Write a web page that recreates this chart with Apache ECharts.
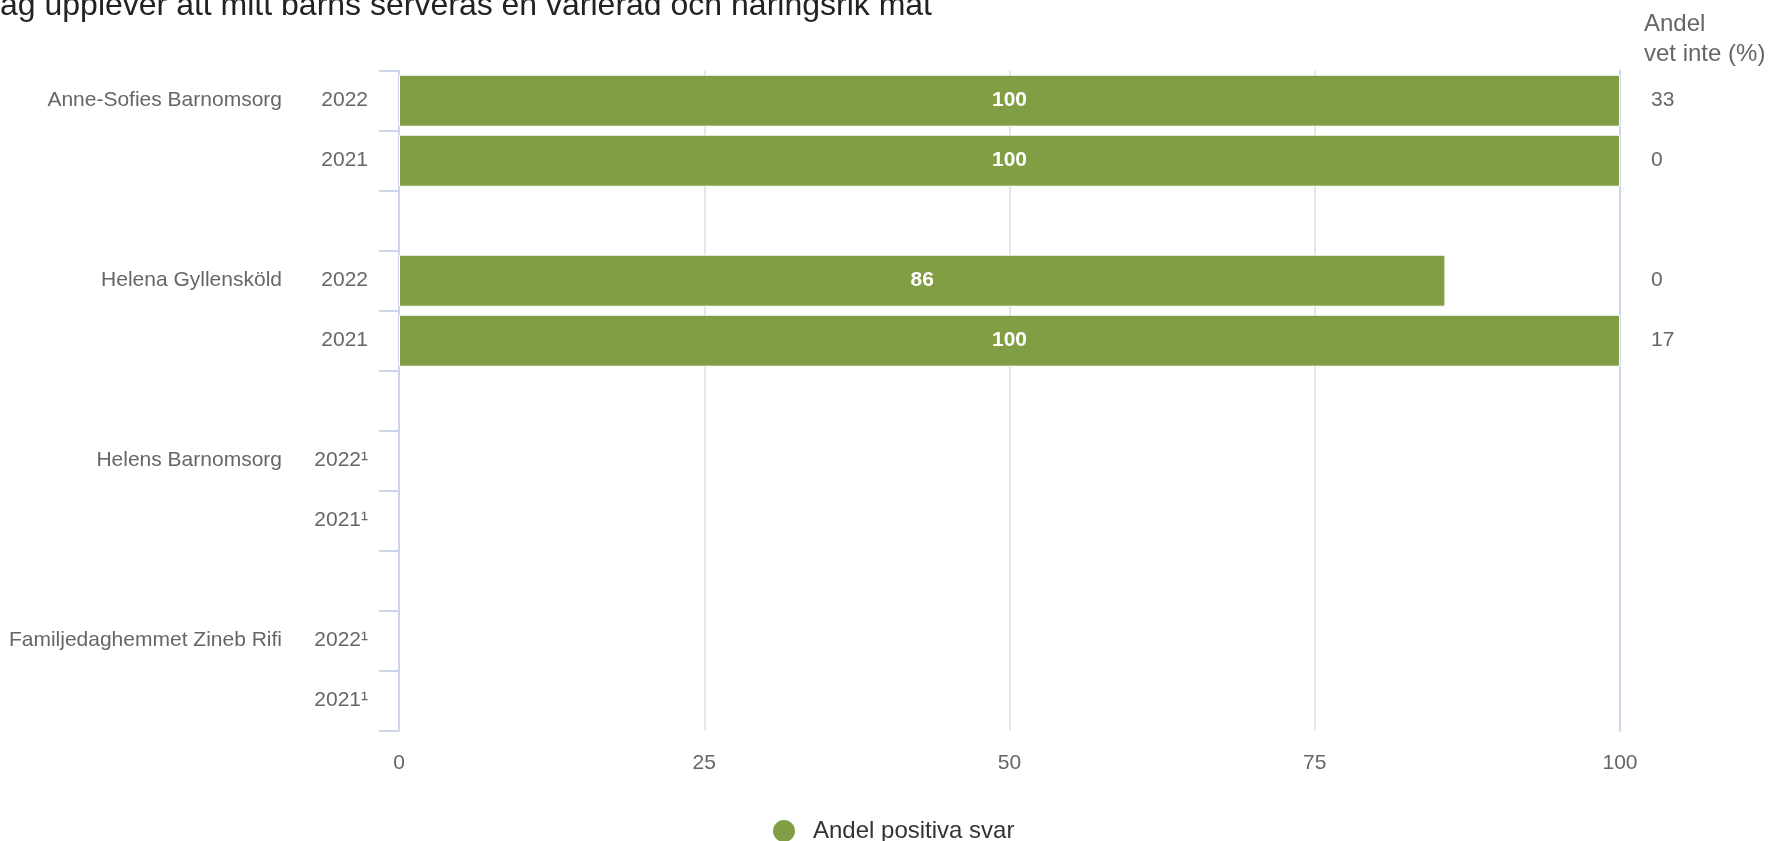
<!DOCTYPE html>
<html>
<head>
<meta charset="utf-8">
<script src="https://cdn.jsdelivr.net/npm/echarts@6/dist/echarts.min.js"></script>
<style>
html,body{margin:0;padding:0;background:#fff;}
#chart{width:1771px;height:841px;}
</style>
</head>
<body>
<div id="chart"></div>
<script>
const titleText = 'Jag upplever att mitt barns serveras en varierad och näringsrik mat';
const rightAxisName = 'Andel\nvet inte (%)';
const seriesName = 'Andel positiva svar';
const rowOrgs = ['Anne-Sofies Barnomsorg', '', '', 'Helena Gyllensköld', '', '', 'Helens Barnomsorg', '', '', 'Familjedaghemmet Zineb Rifi', ''];
const rowYears = ['2022', '2021', '', '2022', '2021', '', '2022¹', '2021¹', '', '2022¹', '2021¹'];
const positiveValues = [100, 100, null, 85.7, 100, null, null, null, null, null, null];
const dontKnowLabels = ['33', '0', '', '0', '17', '', '', '', '', '', ''];
const xTicks = [0, 25, 50, 75, 100];

const categories = rowYears.map((_, i) => 'r' + i);
const font = 'Liberation Sans, Arial, sans-serif';
const labelColor = '#666666';
const axisBlue = '#ccd6eb';

const chart = echarts.init(document.getElementById('chart'));
chart.setOption({
  animation: false,
  textStyle: { fontFamily: font },
  title: [
    {
      text: titleText, left: -21, top: -15,
      textStyle: { fontFamily: font, fontSize: 32, fontWeight: 'normal', color: '#222222' }
    },
    {
      text: rightAxisName, left: 1639, top: 4,
      textStyle: { fontFamily: font, fontSize: 24, fontWeight: 'normal', color: labelColor, lineHeight: 30 }
    }
  ],
  legend: {
    data: [seriesName], left: 766, top: 813, icon: 'circle',
    itemWidth: 48, itemHeight: 24,
    textStyle: { fontFamily: font, fontSize: 24, color: '#333333' }
  },
  grid: { left: 399, right: 151, top: 70.7, bottom: 110.3, containLabel: false },
  xAxis: {
    type: 'value', min: xTicks[0], max: xTicks[xTicks.length - 1], interval: 25,
    axisLine: { show: false }, axisTick: { show: false },
    splitLine: { show: true, lineStyle: { color: '#e6e6e6', width: 2 } },
    axisLabel: { fontFamily: font, fontSize: 21, color: labelColor, margin: 22 }
  },
  yAxis: [
    {
      type: 'category', data: categories, inverse: true, position: 'left',
      axisLine: { show: true, lineStyle: { color: axisBlue, width: 2 } },
      axisTick: { show: true, length: 20, lineStyle: { color: axisBlue, width: 2 } },
      splitLine: { show: false },
      axisLabel: { fontFamily: font, fontSize: 21, color: labelColor, margin: 31, formatter: (v, i) => rowYears[i] }
    },
    {
      type: 'category', data: categories, inverse: true, position: 'left', offset: 0,
      axisLine: { show: false }, axisTick: { show: false }, splitLine: { show: false },
      axisLabel: { fontFamily: font, fontSize: 21, color: labelColor, margin: 117, formatter: (v, i) => rowOrgs[i] }
    },
    {
      type: 'category', data: categories, inverse: true, position: 'right', offset: 0,
      axisLine: { show: true, lineStyle: { color: axisBlue, width: 2 } },
      axisTick: { show: false }, splitLine: { show: false },
      axisLabel: { fontFamily: font, fontSize: 21, color: labelColor, margin: 31, formatter: (v, i) => dontKnowLabels[i] }
    }
  ],
  series: [
    {
      name: seriesName, type: 'bar', yAxisIndex: 0, data: positiveValues, barWidth: 52,
      itemStyle: { color: '#829e45', borderColor: '#ffffff', borderWidth: 1 },
      label: {
        show: true, position: 'inside', color: '#ffffff', fontWeight: 'bold', fontSize: 21, fontFamily: font,
        formatter: p => Math.round(p.value)
      }
    }
  ]
});
</script>
</body>
</html>
